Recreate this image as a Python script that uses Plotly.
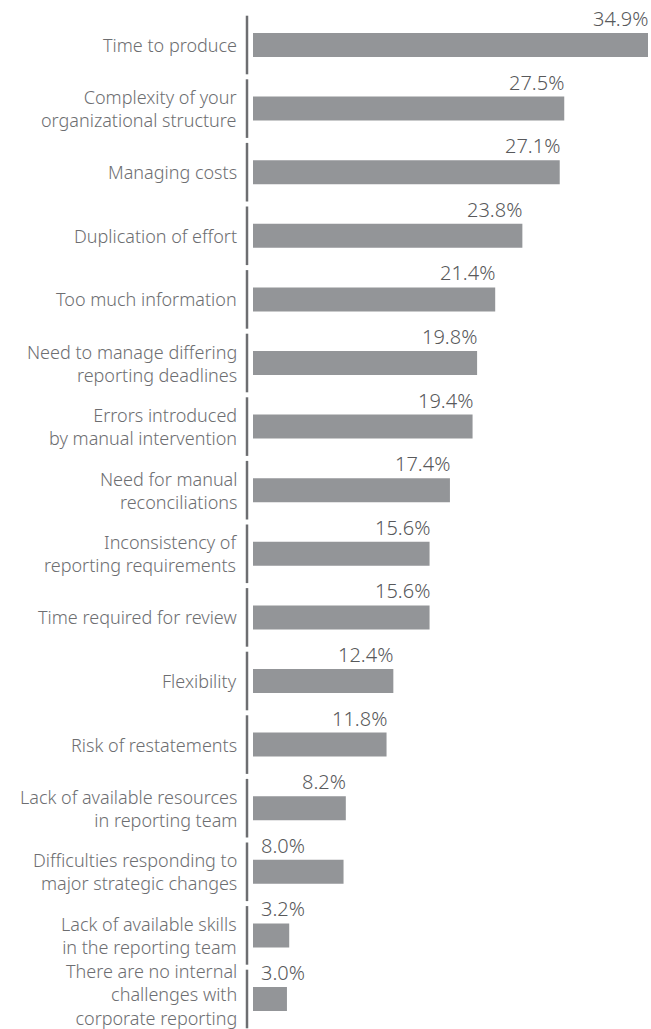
import plotly.graph_objects as go

# Survey responses: internal challenges with corporate reporting
categories = [
    "Time to produce",
    "Complexity of your<br>organizational structure",
    "Managing costs",
    "Duplication of effort",
    "Too much information",
    "Need to manage differing<br>reporting deadlines",
    "Errors introduced<br>by manual intervention",
    "Need for manual<br>reconciliations",
    "Inconsistency of<br>reporting requirements",
    "Time required for review",
    "Flexibility",
    "Risk of restatements",
    "Lack of available resources<br>in reporting team",
    "Difficulties responding to<br>major strategic changes",
    "Lack of available skills<br>in the reporting team",
    "There are no internal<br>challenges with<br>corporate reporting",
]
values = [34.9, 27.5, 27.1, 23.8, 21.4, 19.8, 19.4, 17.4,
          15.6, 15.6, 12.4, 11.8, 8.2, 8.0, 3.2, 3.0]

W, H = 651, 1029
LEFT, RIGHT = 253, 3
ROW0, PITCH = 45.0, 63.6          # pixel centre of first row, row spacing
BAR_PX = 24.0
n = len(categories)
idx = list(range(n))

y_top = -ROW0 / PITCH
y_bot = (H - ROW0) / PITCH
bar_w = BAR_PX / PITCH

BAR_COLOR = "#939598"
LABEL_COLOR = "#6d6e71"
VALUE_COLOR = "#58595b"
FONT = "Noto Sans"

fig = go.Figure(go.Bar(
    x=values, y=idx, orientation="h", width=bar_w,
    marker=dict(color=BAR_COLOR, line=dict(width=0)),
    hoverinfo="skip",
))

annotations = []
shapes = []
plot_w = W - LEFT - RIGHT
for i, (cat, v) in enumerate(zip(categories, values)):
    n_lines = cat.count("<br>") + 1
    # category label left of the axis
    annotations.append(dict(
        x=0, xref="paper", y=i, yref="y", xanchor="right", yanchor="middle",
        xshift=-14, yshift=5 if n_lines >= 3 else 0,
        text=cat, align="right", showarrow=False,
        font=dict(family=FONT, size=18, color=LABEL_COLOR, weight=300),
    ))
    # value label above the bar
    short = v <= 8.0
    annotations.append(dict(
        x=0 if short else v, xref="x", y=i - bar_w / 2, yref="y",
        xanchor="left" if short else "right", yanchor="bottom",
        xshift=6 if short else 2, yshift=-1,
        text=f"{v:.1f}%", showarrow=False,
        font=dict(family=FONT, size=20, color=VALUE_COLOR, weight=300),
    ))
    # segmented axis line, one piece per row
    gap = 2.5 / PITCH
    shapes.append(dict(
        type="line", xref="paper", yref="y",
        x0=-6 / plot_w, x1=-6 / plot_w,
        y0=i - 0.5 + gap, y1=min(i + 0.5 - gap, y_bot),
        line=dict(color=LABEL_COLOR, width=2.5),
    ))

fig.update_layout(
    width=W, height=H,
    margin=dict(l=LEFT, r=RIGHT, t=0, b=0),
    paper_bgcolor="white", plot_bgcolor="white",
    showlegend=False,
    xaxis=dict(range=[0, max(values)], showgrid=False, zeroline=False,
               showticklabels=False, showline=False),
    yaxis=dict(range=[y_bot, y_top], showgrid=False, zeroline=False,
               showticklabels=False, showline=False),
    annotations=annotations,
    shapes=shapes,
)

fig.write_html("out.html")
